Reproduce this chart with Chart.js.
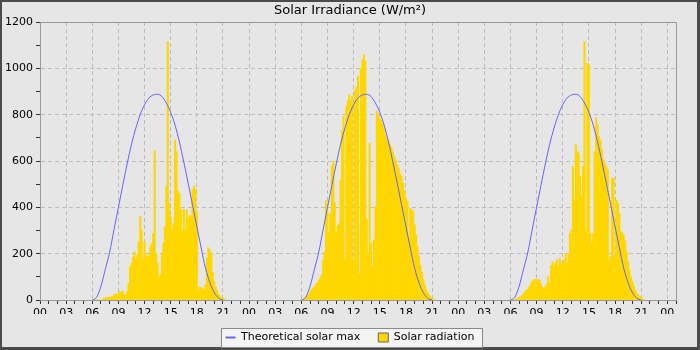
<!DOCTYPE html>
<html>
<head>
<meta charset="utf-8">
<title>Solar Irradiance</title>
<script src="https://cdn.jsdelivr.net/npm/chart.js@4.4.1/dist/chart.umd.min.js"></script>
<style>
  html, body { margin: 0; padding: 0; background: #e6e6e6; }
  canvas { display: block; }
</style>
</head>
<body>
<canvas id="chart" width="700" height="350"></canvas>
<script>
/* data: 10 minute slots from 06:00 to 21:10 each day */
const dayStartHours = [0, 24, 48];
const slotHours = 1 / 6;
const firstSlotHour = 6;

const radiationDay1 = [
  0, 0, 0, 0, 0, 0,
  0, 0, 8, 10, 10, 12,
  12, 14, 14, 22, 24, 26,
  28, 36, 34, 38, 24, 22,
  36, 72, 144, 158, 187, 209,
  173, 194, 250, 360, 300, 173,
  252, 187, 194, 187, 230, 245,
  288, 645, 202, 158, 100, 110,
  200, 245, 317, 490, 1115, 420,
  360, 300, 330, 690, 640, 470,
  460, 390, 300, 390, 300, 390,
  350, 365, 360, 475, 490, 480,
  380, 45, 55, 55, 50, 40,
  65, 180, 225, 215, 200, 120,
  80, 55, 40, 25, 15, 12,
  8, 5
];

const radiationDay2 = [
  0, 0, 5, 12, 18, 22,
  35, 45, 52, 58, 68, 75,
  86, 95, 110, 170, 210, 428,
  380, 290, 374, 580, 600, 420,
  290, 320, 330, 518, 730, 792,
  173, 835, 860, 886, 860, 880,
  173, 907, 920, 965, 115, 1000,
  1037, 1058, 1030, 350, 200, 677,
  245, 144, 259, 403, 814, 804,
  785, 775, 760, 740, 715, 698,
  686, 670, 660, 641, 620, 605,
  583, 570, 545, 533, 504, 470,
  440, 425, 260, 395, 390, 382,
  324, 280, 230, 187, 150, 120,
  90, 65, 45, 32, 22, 14,
  8, 5
];

const radiationDay3 = [
  0, 0, 0, 0, 5, 7,
  12, 14, 20, 28, 36, 42,
  46, 58, 70, 80, 86, 89,
  89, 88, 86, 70, 55, 50,
  58, 70, 100, 72, 150, 165,
  144, 158, 173, 150, 180, 158,
  160, 173, 200, 158, 200, 288,
  302, 576, 432, 670, 640, 634,
  533, 446, 576, 1116, 302, 1022,
  1015, 288, 245, 288, 640, 785,
  756, 706, 691, 648, 605, 590,
  576, 562, 173, 187, 526, 526,
  187, 432, 418, 374, 295, 290,
  280, 255, 210, 165, 130, 100,
  80, 60, 43, 29, 22, 14,
  14, 7
];

// theoretical clear sky maximum, half hourly 06:00 .. 21:00 (same every day)
const theoryStep = 0.5;
const theoreticalMax = [
  0, 12, 60, 133, 207, 305, 400, 495, 587, 672, 742, 800, 843, 872, 885,
  888, 878, 850, 810, 755, 682, 596, 505, 412, 318, 225, 137, 75, 32, 8, 0
];

const xTickLabels = ['00', '03', '06', '09', '12', '15', '18', '21'];
const yMax = 1200;
const xMax = 73;

const $ = (sel) => document.querySelector(sel);

Chart.defaults.font.family = '"DejaVu Sans", sans-serif';
Chart.defaults.font.size = 11;
Chart.defaults.color = '#000';

function buildBars() {
  const days = [radiationDay1, radiationDay2, radiationDay3];
  const pts = [];
  days.forEach((vals, d) => {
    vals.forEach((v, i) => {
      pts.push({ x: dayStartHours[d] + firstSlotHour + i * slotHours, y: v });
    });
  });
  return pts;
}

function buildTheory() {
  const pts = [];
  dayStartHours.forEach(start => {
    theoreticalMax.forEach((v, i) => {
      pts.push({ x: start + firstSlotHour + i * theoryStep, y: v });
    });
    pts.push({ x: start + 22, y: null }); // corta la linea de noche
  });
  return pts;
}

// fondo, marco exterior, caja de leyenda y marco del grafico
const framePlugin = {
  id: 'frame',
  beforeDraw(chart) {
    const { ctx, width, height } = chart;
    ctx.save();
    ctx.fillStyle = '#4b4b4b';
    ctx.fillRect(0, 0, width, height);
    ctx.fillStyle = '#e6e6e6';
    ctx.fillRect(2, 2, width - 5, height - 5);

    const boxes = chart.legend.legendHitBoxes || [];
    if (boxes.length) {
      const first = boxes[0], last = boxes[boxes.length - 1];
      const x0 = Math.round(first.left - 5);
      const x1 = Math.round(last.left + last.width + 8);
      const y0 = Math.round(first.top + first.height / 2 - 9.5);
      ctx.fillStyle = '#f4f4f4';
      ctx.fillRect(x0, y0, x1 - x0, 19);
      ctx.strokeStyle = '#8a8a8a';
      ctx.lineWidth = 1;
      ctx.strokeRect(x0 + 0.5, y0 + 0.5, x1 - x0, 19);
    }
    ctx.restore();
  },
  beforeDatasetsDraw(chart) {
    const { ctx, chartArea: a } = chart;
    ctx.save();
    ctx.strokeStyle = '#999';
    ctx.lineWidth = 1;
    ctx.beginPath();
    ctx.moveTo(a.left, Math.round(a.top) + 0.5);
    ctx.lineTo(Math.round(a.right) + 0.5, Math.round(a.top) + 0.5);
    ctx.lineTo(Math.round(a.right) + 0.5, a.bottom);
    ctx.stroke();
    ctx.restore();
  }
};

new Chart($('#chart'), {
  type: 'bar',
  data: {
    datasets: [
      {
        type: 'line',
        label: 'Theoretical solar max',
        data: buildTheory(),
        borderColor: '#6464ff',
        borderWidth: 1,
        pointRadius: 0,
        pointStyle: 'line',
        cubicInterpolationMode: 'monotone',
        spanGaps: false,
        fill: false
      },
      {
        label: 'Solar radiation',
        data: buildBars(),
        backgroundColor: '#ffd700',
        borderWidth: 0,
        barPercentage: 1.0,
        categoryPercentage: 1.0,
        pointStyle: 'rect'
      }
    ]
  },
  options: {
    responsive: false,
    animation: false,
    devicePixelRatio: 1,
    layout: { padding: { left: 2, right: 2, top: 2, bottom: -3 } },
    plugins: {
      title: {
        display: true,
        text: 'Solar Irradiance (W/m²)',
        font: { size: 13, weight: 'normal', lineHeight: '16px' },
        padding: { top: 1, bottom: 3 },
        color: '#000'
      },
      legend: {
        position: 'bottom',
        labels: {
          usePointStyle: true,
          pointStyleWidth: 10,
          boxHeight: 9,
          padding: 18,
          color: '#000',
          generateLabels: (ch) => {
            const items = Chart.defaults.plugins.legend.labels.generateLabels(ch);
            items.forEach(it => {
              if (it.datasetIndex === 0) {
                it.lineWidth = 2;
              } else {
                it.strokeStyle = '#666';
                it.lineWidth = 1;
              }
            });
            return items;
          }
        }
      },
      tooltip: { enabled: false }
    },
    scales: {
      x: {
        type: 'linear',
        min: 0,
        max: xMax,
        offset: false,
        afterFit: (s) => { s.height = 14; },
        ticks: {
          stepSize: 1,
          autoSkip: false,
          maxRotation: 0,
          padding: 3,
          callback: (v) => (v % 3 === 0 ? xTickLabels[(v % 24) / 3] : '')
        },
        grid: {
          offset: false,
          tickLength: 4,
          color: (c) => (c.tick && c.tick.value % 3 === 0 ? '#bdbdbd' : 'rgba(0,0,0,0)'),
          tickColor: '#333'
        },
        border: { display: true, color: '#999', dash: [4, 3] }
      },
      y: {
        min: 0,
        max: yMax,
        afterFit: (s) => { s.width = 38; },
        ticks: {
          stepSize: 100,
          padding: 3,
          callback: (v) => (v % 200 === 0 ? v : '')
        },
        grid: {
          tickLength: 4,
          color: (c) => (c.tick && c.tick.value % 200 === 0 ? '#bdbdbd' : 'rgba(0,0,0,0)'),
          tickColor: '#333'
        },
        border: { display: true, color: '#999', dash: [4, 3] }
      },
      y2: {
        position: 'right',
        display: true,
        afterFit: (s) => { s.width = 22; },
        ticks: { display: false },
        grid: { display: false, drawTicks: false },
        border: { display: false }
      }
    }
  },
  plugins: [framePlugin]
});
</script>
</body>
</html>
